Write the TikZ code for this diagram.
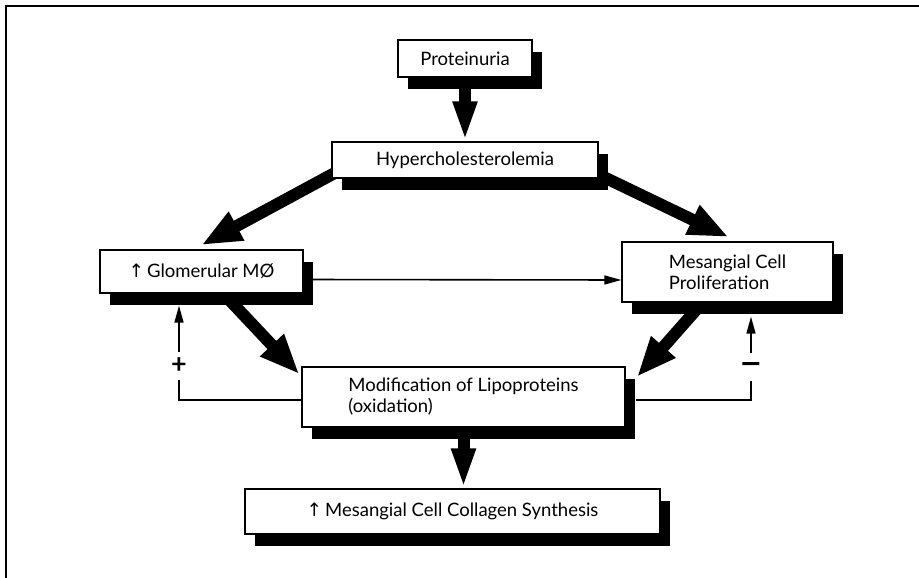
\documentclass[tikz,border=0pt]{standalone}
\usepackage{fontspec}
\setmainfont{Lato}
\newfontfamily\symfont{DejaVu Sans}
\usetikzlibrary{positioning,arrows.meta,shadows,calc,backgrounds}

\begin{document}
\begin{tikzpicture}[x=1pt,y=-1pt,
  box/.style={draw,fill=white,line width=1.3pt,inner sep=0pt,
    font=\fontsize{18.5}{21}\selectfont,
    drop shadow={shadow xshift=10pt,shadow yshift=-12pt,fill=black,opacity=1}},
  bigarrow/.style={line width=12pt,-{Triangle[length=40pt,width=#1]}},
  bigarrow/.default=30pt,
  thinarrow/.style={line width=1.6pt,-{Triangle[length=17pt,width=9pt]}},
  sign/.style={inner sep=0pt,minimum height=28pt,font=\fontsize{27}{27}\bfseries}]
  \useasboundingbox (0,0) rectangle (919,578);

  % frame, only top and left edges are left
  \draw[line width=2.5pt] (6,578) -- (6,6) -- (919,6);

  \node[box,minimum width=134pt,minimum height=37pt] (prot) at (465,58.5) {Proteinuria};
  \node[box,minimum width=266pt,minimum height=36pt] (hyper) at (465,160) {Hypercholesterolemia};
  \node[box,minimum width=203pt,minimum height=43pt] (glom) at (201.5,271.5) {{\symfont ↑}\,Glomerular MØ};
  \node[box,minimum width=211pt,minimum height=60pt,align=left] (mes) at (727.5,272) {Mesangial Cell\\Proliferation};
  \node[box,minimum width=323pt,minimum height=60pt,align=left] (mod) at (463.5,397) {Modification of Lipoproteins\\(oxidation)};
  \node[box,minimum width=415pt,minimum height=45pt] (coll) at (452.5,511.5) {{\symfont ↑}\,Mesangial Cell Collagen Synthesis};

  % heavy arrows sit behind the boxes
  \begin{scope}[on background layer]
    \draw[bigarrow=22pt] (prot.south) -- (hyper.north);
    \draw[bigarrow,shorten >=9pt] ($(hyper.south west)+(4,-6)$) -- ($(glom.north)+(-8,0)$);
    \draw[bigarrow,shorten >=10pt] ($(hyper.south east)+(-4,-6)$) -- ($(mes.north)+(10,0)$);
    \draw[bigarrow,shorten >=3pt] ($(glom.south)+(22,0)$) -- ($(mod.north west)+(0,10)$);
    \draw[bigarrow,shorten >=2pt] ($(mes.south)+(-25,0)$) -- ($(mod.north east)+(10,12)$);
    \draw[bigarrow=22pt] (mod.south) -- (mod.south |- coll.north);
  \end{scope}

  \draw[thinarrow] ($(glom.east)+(0,8)$) -- ($(mes.west)+(0,8)$);

  % feedback loops
  \coordinate (glomfoot) at ($(glom.south)+(0,12)$);
  \coordinate (mesfoot) at ($(mes.south)+(0,14)$);
  \node[sign] (plus) at (179,366) {+};
  \node[sign] (minus) at (751,367) {{\symfont −}};
  \draw[line width=1.6pt] ($(mod.west)+(0,3)$) -| (plus.south);
  \draw[thinarrow] (plus.north) -- (plus |- glomfoot);
  \draw[line width=1.6pt] ($(mod.east)+(10,3)$) -| (minus.south);
  \draw[thinarrow] (minus.north) -- (minus |- mesfoot);
\end{tikzpicture}
\end{document}
